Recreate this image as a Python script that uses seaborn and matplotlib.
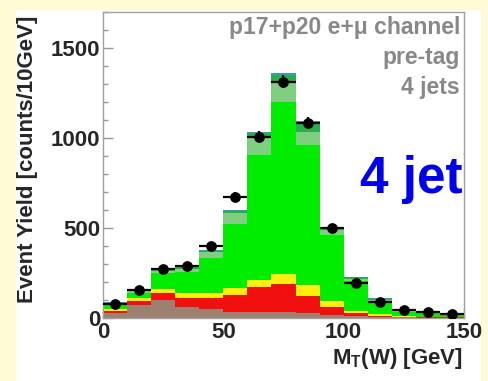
import numpy as np
import pandas as pd
import matplotlib
matplotlib.use("Agg")
import matplotlib.pyplot as plt
import seaborn as sns
from matplotlib.patches import Rectangle

# ---------------- data ----------------
bin_edges = [0, 10, 20, 30, 40, 50, 60, 70, 80, 90, 100, 110, 120, 130, 140, 150]
bin_centers = [5, 15, 25, 35, 45, 55, 65, 75, 85, 95, 105, 115, 125, 135, 145]

brown = [26, 72, 100, 59, 48, 35, 31, 31, 26, 18, 10, 5, 3, 2, 2]
red = [15, 24, 37, 50, 65, 93, 143, 156, 96, 45, 16, 6, 2, 2, 1]
yellow = [7, 13, 22, 28, 28, 37, 37, 56, 61, 33, 15, 9, 4, 2, 2]
green = [28, 31, 89, 120, 194, 357, 695, 959, 778, 367, 164, 75, 27, 21, 17]
lightgreen = [5, 8, 15, 15, 30, 60, 100, 111, 75, 25, 10, 6, 3, 2, 2]
darkgreen = [5, 8, 10, 10, 10, 15, 20, 37, 50, 15, 12, 6, 4, 3, 2]
teal = [2, 2, 3, 3, 3, 3, 9, 9, 8, 4, 3, 2, 1, 1, 1]

data_counts = [80, 155, 272, 287, 402, 674, 1007, 1313, 1085, 498, 193, 87, 45, 32, 24]

components = {
    "teal": teal,
    "darkgreen": darkgreen,
    "lightgreen": lightgreen,
    "green": green,
    "yellow": yellow,
    "red": red,
    "brown": brown,
}
palette = {
    "teal": "#3a98c4",
    "darkgreen": "#27b048",
    "lightgreen": "#7fcf80",
    "green": "#00ec00",
    "yellow": "#ffee10",
    "red": "#f01010",
    "brown": "#9c8070",
}
hue_order = list(components.keys())  # first on top, last at bottom

rows = []
for name, vals in components.items():
    for c, v in zip(bin_centers, vals):
        rows.append({"x": c, "w": v, "comp": name})
df = pd.DataFrame(rows)

# ---------------- style ----------------
sns.set_theme(style="ticks")
plt.rcParams["font.family"] = ["Liberation Sans", "DejaVu Sans"]
plt.rcParams["font.weight"] = "bold"
plt.rcParams["mathtext.fontset"] = "custom"
plt.rcParams["mathtext.rm"] = "Liberation Sans:bold"
plt.rcParams["mathtext.bf"] = "Liberation Sans:bold"
plt.rcParams["mathtext.it"] = "Liberation Sans:bold"

W, H = 489, 381
fig = plt.figure(figsize=(W / 100, H / 100), dpi=100)
fig.patch.set_facecolor("#fffcd5")
fig.patches.append(Rectangle((16 / W, 0), (481 - 16) / W, (H - 10) / H,
                             transform=fig.transFigure, facecolor="white",
                             edgecolor="none", zorder=-10))

ax = fig.add_axes([103 / W, (H - 318) / H, (464 - 103) / W, (318 - 12) / H])
ax.set_facecolor("white")

sns.histplot(data=df, x="x", weights="w", hue="comp", hue_order=hue_order,
             palette=palette, bins=bin_edges, multiple="stack", element="step",
             fill=True, alpha=1, linewidth=0, legend=False, ax=ax)

ax.errorbar(bin_centers, data_counts, xerr=5, yerr=np.sqrt(data_counts),
            fmt="none", ecolor="black", elinewidth=1.6, capsize=0, zorder=5)
sns.scatterplot(x=bin_centers, y=data_counts, color="black", s=60,
                edgecolor="black", linewidth=0, zorder=6, ax=ax)

ax.set_xlim(0, 150)
ax.set_ylim(0, 1700)
ax.set_xticks([0, 50, 100, 150])
ax.set_xticks(np.arange(0, 151, 10), minor=True)
ax.set_yticks([0, 500, 1000, 1500])
ax.set_yticks(np.arange(0, 1701, 100), minor=True)
ax.tick_params(axis="both", which="major", direction="in", length=7,
               width=1, color="#999999", labelsize=16)
ax.tick_params(axis="both", which="minor", direction="in", length=3.5,
               width=1, color="#999999")
ax.tick_params(axis="x", which="major", pad=3)
ax.tick_params(axis="y", which="major", pad=2)
for lab in ax.get_xticklabels() + ax.get_yticklabels():
    lab.set_fontweight("bold")
for sp in ax.spines.values():
    sp.set_color("#a0a0a0")
    sp.set_linewidth(1)
    sp.set_visible(True)

ax.set_ylabel("Event Yield [counts/10GeV]", fontsize=16, fontweight="bold")
ax.yaxis.set_label_coords(-0.18, 0.52)
ax.set_xlabel(r"M$_{\mathrm{T}}$(W) [GeV]", fontsize=16, fontweight="bold",
              ha="right")
ax.xaxis.set_label_coords(0.997, -0.09)

ax.text(0.989, 0.948, "p17+p20 e+μ channel", transform=ax.transAxes,
        ha="right", va="center", fontsize=16.5, fontweight="bold", color="#888888")
ax.text(0.989, 0.850, "pre-tag", transform=ax.transAxes,
        ha="right", va="center", fontsize=16.5, fontweight="bold", color="#888888")
ax.text(0.989, 0.752, "4 jets", transform=ax.transAxes,
        ha="right", va="center", fontsize=16.5, fontweight="bold", color="#888888")
ax.text(0.997, 0.408, "4 jet", transform=ax.transAxes,
        ha="right", va="baseline", fontsize=37, fontweight="bold", color="#0000ee")

fig.savefig("out.png", dpi=100, facecolor=fig.get_facecolor())
